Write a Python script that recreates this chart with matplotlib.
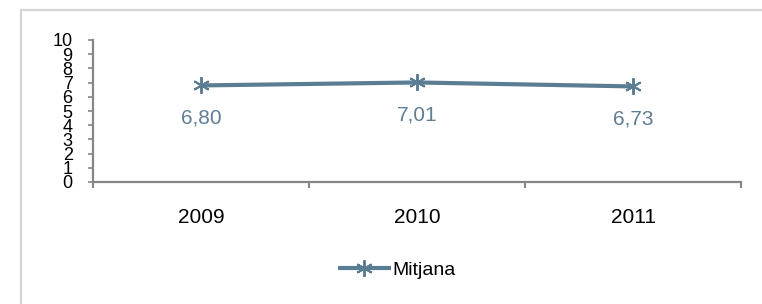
import matplotlib
matplotlib.use("Agg")
import matplotlib.pyplot as plt
from matplotlib.patches import Rectangle

categories = ["2009", "2010", "2011"]
values = [6.80, 7.01, 6.73]
labels = ["6,80", "7,01", "6,73"]
series_name = "Mitjana"

plt.rcParams['font.family'] = ['Liberation Sans', 'DejaVu Sans']

W, H = 762, 304
fig = plt.figure(figsize=(W/100, H/100), dpi=100)
fig.patch.set_facecolor('white')

# outer border (clipped at right/bottom)
fig.add_artist(Rectangle((21/W, -0.2), 1.5, 1 - 10/H + 0.2, transform=fig.transFigure,
                         fill=False, edgecolor='#d4d4d4', linewidth=1.6))

ax = fig.add_axes([93/W, 1 - 182/H, (741-93)/W, (182-40)/H])
line_color = '#5b7d93'
xs = [i + 0.5 for i in range(len(categories))]
ax.plot(xs, values, color=line_color, linewidth=3, marker=(6, 2, 0), markersize=12,
        markeredgewidth=1.4, markeredgecolor=line_color, label=series_name, solid_capstyle='butt')

for x, v, t in zip(xs, values, labels):
    ax.annotate(t, (x, v), xytext=(0, -33), textcoords='offset pixels', ha='center', va='center',
                fontsize=15, color='#5e7f94')

ax.set_xlim(0, 3)
ax.set_ylim(0, 10)
ax.set_yticks(range(0, 11))
ax.set_xticks([0, 1, 2, 3])
ax.set_xticklabels([])
ax.set_xticks(xs, minor=True)
ax.set_xticklabels(categories, minor=True)
ax.tick_params(axis='x', which='major', length=6/1.389, width=1.5, color='#868686', direction='out')
ax.tick_params(axis='x', which='minor', length=0, pad=19, labelsize=15)
ax.tick_params(axis='y', length=5/1.389, width=1.2, color='#868686', direction='out', pad=11, labelsize=13)

for s in ['top', 'right']:
    ax.spines[s].set_visible(False)
for s in ['left', 'bottom']:
    ax.spines[s].set_color('#868686')
    ax.spines[s].set_linewidth(1.6)
ax.set_facecolor('none')

fig.legend(loc='center', bbox_to_anchor=(397/W, 1 - 270/H), frameon=False, fontsize=14,
           handlelength=2.7, handletextpad=0.1)

fig.savefig("out.png", dpi=100)
